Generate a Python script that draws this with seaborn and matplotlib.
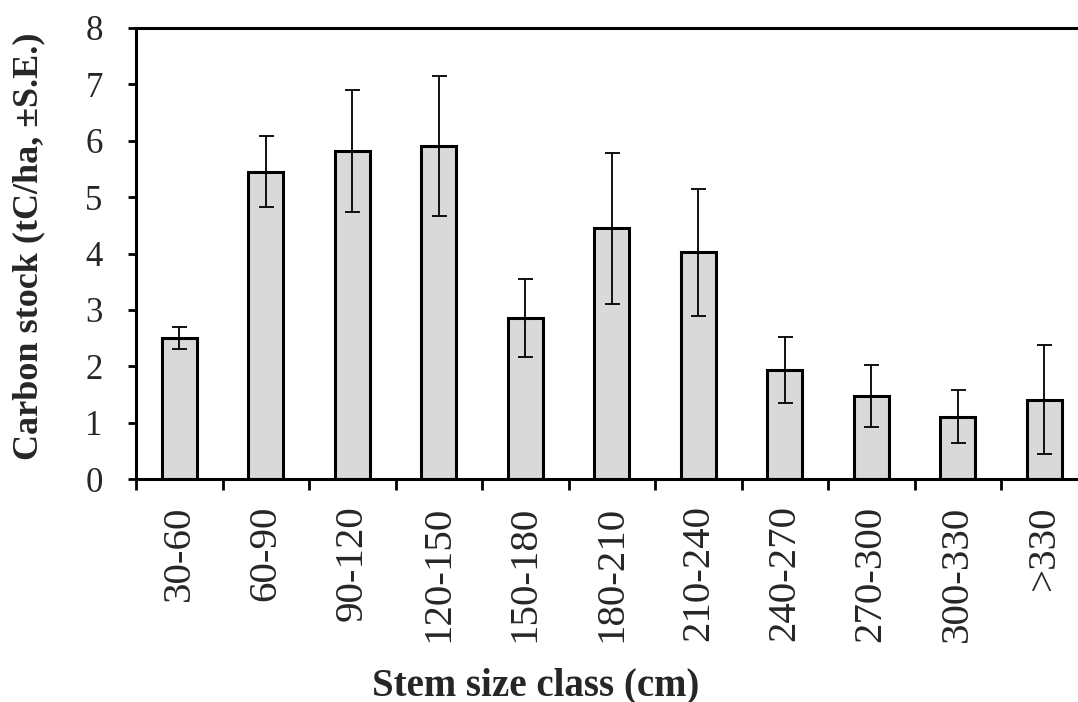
import numpy as np
import pandas as pd
import matplotlib
matplotlib.use("Agg")
import matplotlib.pyplot as plt
import seaborn as sns

classes = ["30-60", "60-90", "90-120", "120-150", "150-180", "180-210",
           "210-240", "240-270", "270-300", "300-330", ">330"]
carbon = [2.50, 5.45, 5.82, 5.90, 2.85, 4.45, 4.02, 1.93, 1.48, 1.10, 1.41]
se = [0.19, 0.63, 1.08, 1.24, 0.69, 1.34, 1.13, 0.58, 0.55, 0.47, 0.97]
y_ticks = [0, 1, 2, 3, 4, 5, 6, 7, 8]

sns.set_style("ticks")
plt.rcParams["font.family"] = ["Liberation Serif", "DejaVu Serif"]

df = pd.DataFrame({"cls": classes, "carbon": carbon, "se": se})

W, H = 1078, 702
fig = plt.figure(figsize=(W / 100, H / 100), dpi=100)
ax = fig.add_axes([136 / W, 1 - 479 / H, 951.5 / W, 451 / H])

sns.barplot(data=df, x="cls", y="carbon", color="#d9d9d9", saturation=1,
            edgecolor="black", linewidth=2.2, width=0.41, errorbar=None, ax=ax)
ax.errorbar(np.arange(len(classes)), df["carbon"], yerr=df["se"], fmt="none",
            ecolor="black", elinewidth=1.3, capsize=5.4, capthick=1.3)

ax.set_ylim(0, 8)
ax.set_xlim(-0.5, len(classes) - 0.5)
ax.set_yticks(y_ticks)
ax.set_yticklabels([str(v) for v in y_ticks], fontsize=25)
ax.set_xticks(np.arange(len(classes)))
ax.set_xticklabels(classes, rotation=90, fontsize=29.5, va="top", ha="center")
ax.set_xticks(np.arange(len(classes) + 1) - 0.5, minor=True)
ax.tick_params(axis="x", which="major", length=0, pad=19)
ax.tick_params(axis="x", which="minor", length=8, width=2.0, direction="out", color="black")
ax.tick_params(axis="y", which="major", length=6, width=2.0, direction="out", pad=18, color="black")
ax.set_xlabel("")
ax.set_ylabel("")
for s in ax.spines.values():
    s.set_visible(True)
    s.set_linewidth(2.2)
    s.set_color("black")

fig.text(536 / W, 1 - 695 / H, "Stem size class (cm)", ha="center", va="baseline",
         fontsize=28, fontweight="bold")
fig.text(29 / W, 1 - 246 / H, "Carbon stock (tC/ha, ±S.E.)", ha="center", va="center",
         rotation=90, fontsize=26, fontweight="bold")

fig.savefig("out.png", dpi=100, facecolor="white")
